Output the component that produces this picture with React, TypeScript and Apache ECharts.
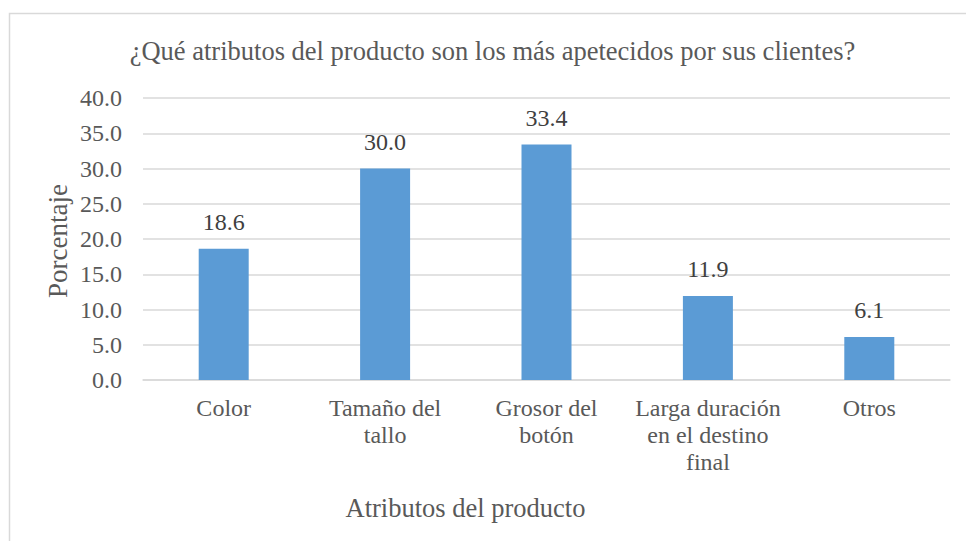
import React, { useEffect, useRef } from "react";
import * as echarts from "echarts";

const categories = [
  "Color",
  "Tamaño del\ntallo",
  "Grosor del\nbotón",
  "Larga duración\nen el destino\nfinal",
  "Otros",
];
const percentages = [18.6, 30.0, 33.4, 11.9, 6.1];
const yMin = 0;
const yMax = 40;
const yStep = 5;

const chartTitle = "¿Qué atributos del producto son los más apetecidos por sus clientes?";
const xTitle = "Atributos del producto";
const yTitle = "Porcentaje";

const FONT = "Liberation Serif";
const GREY = "#595959";
const LINE = "#d9d9d9";

export default function App() {
  const ref = useRef<HTMLDivElement>(null);

  useEffect(() => {
    if (!ref.current) return;
    const chart = echarts.init(ref.current, null, { renderer: "svg" });
    chart.setOption({
      animation: false,
      grid: { left: 143, right: 16, top: 98, bottom: 161, containLabel: false },
      xAxis: {
        type: "category",
        data: categories,
        axisLine: { lineStyle: { color: LINE, width: 1.5 } },
        axisTick: { show: false },
        axisLabel: {
          interval: 0,
          margin: 14,
          fontFamily: FONT,
          fontSize: 24,
          lineHeight: 27,
          color: GREY,
          align: "center",
        },
      },
      yAxis: {
        type: "value",
        min: yMin,
        max: yMax,
        interval: yStep,
        axisLine: { show: false },
        axisTick: { show: false },
        splitLine: { lineStyle: { color: LINE, width: 1.5 } },
        axisLabel: {
          margin: 21,
          fontFamily: FONT,
          fontSize: 24,
          color: GREY,
          formatter: (v: number) => v.toFixed(1),
        },
      },
      series: [
        {
          type: "bar",
          data: percentages,
          barWidth: 50,
          itemStyle: { color: "#5b9bd5" },
          label: {
            show: true,
            position: "top",
            distance: 15,
            fontFamily: FONT,
            fontSize: 24,
            color: "#404040",
            formatter: (p: any) => Number(p.value).toFixed(1),
          },
        },
      ],
      graphic: [
        {
          type: "rect",
          silent: true,
          z: -1,
          shape: { x: 9.5, y: 13.5, width: 1000, height: 600 },
          style: { fill: "none", stroke: LINE, lineWidth: 1.5 },
        },
        {
          type: "text",
          x: 492.5,
          y: 51,
          style: {
            text: chartTitle,
            fontFamily: FONT,
            fontSize: 26.5,
            fill: GREY,
            align: "center",
            verticalAlign: "middle",
          },
        },
        {
          type: "text",
          x: 465.5,
          y: 508,
          style: {
            text: xTitle,
            fontFamily: FONT,
            fontSize: 26.5,
            fill: GREY,
            align: "center",
            verticalAlign: "middle",
          },
        },
        {
          type: "text",
          x: 58,
          y: 241,
          rotation: Math.PI / 2,
          style: {
            text: yTitle,
            fontFamily: FONT,
            fontSize: 27,
            fill: GREY,
            align: "center",
            verticalAlign: "middle",
          },
        },
      ],
    });
    return () => chart.dispose();
  }, []);

  return (
    <div
      ref={ref}
      style={{ position: "absolute", left: 0, top: 0, width: 966, height: 541, background: "#ffffff" }}
    />
  );
}
